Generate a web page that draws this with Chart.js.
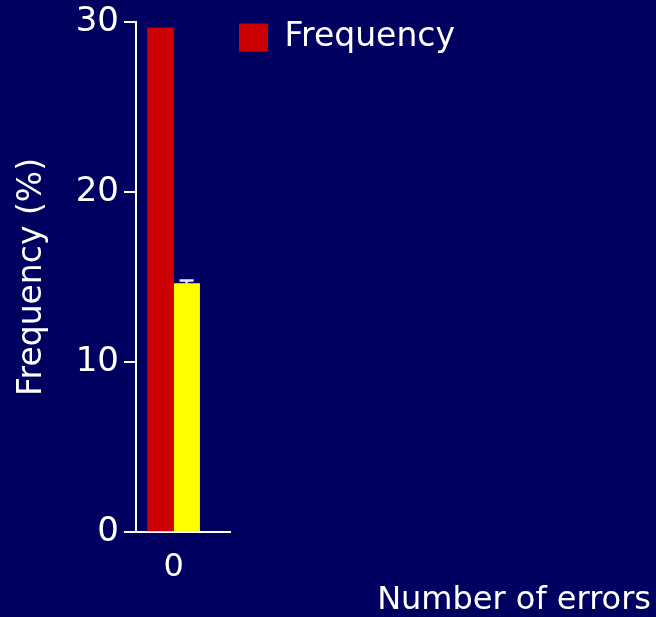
<!DOCTYPE html>
<html>
<head>
<meta charset="utf-8">
<script src="https://cdn.jsdelivr.net/npm/chart.js@4.4.1/dist/chart.umd.min.js"></script>
<style>
html,body{margin:0;padding:0;background:#000060;overflow:hidden;}
#wrap{width:656px;height:617px;}
</style>
</head>
<body>
<div id="wrap"><canvas id="c" width="656" height="617"></canvas></div>
<script>
// ---- data ----
const categories = ['0'];
const frequencyValues = [29.65];
const secondValues = [14.62];
const secondErrors = [0.17];
const yTickValues = [0, 10, 20, 30];
const seriesLabels = ['Frequency', 'Frequency (2)'];

// ---- style / layout ----
const BG = '#000060';
const WHITE = '#ffffff';
const PLOT_RIGHT = 230;   // right edge of plot area
const LEGEND_LEFT = 239;  // left edge of legend
const LEGEND_PAD = 0;
const RIGHT_PAD = 5;

Chart.defaults.font.family = '"DejaVu Sans", sans-serif';
Chart.defaults.color = WHITE;

const bgPlugin = {
  id: 'bg',
  beforeDraw(chart) {
    const ctx = chart.ctx;
    ctx.save();
    ctx.fillStyle = BG;
    ctx.fillRect(0, 0, chart.width, chart.height);
    ctx.restore();
  }
};

const errorBarPlugin = {
  id: 'errorBars',
  afterDatasetsDraw(chart) {
    const ctx = chart.ctx;
    const yScale = chart.scales.y;
    chart.data.datasets.forEach((ds, di) => {
      if (!ds.errors) return;
      const meta = chart.getDatasetMeta(di);
      meta.data.forEach((bar, i) => {
        const v = ds.data[i].y;
        const e = ds.errors[i];
        const yBase = yScale.getPixelForValue(v);
        const yTop = yScale.getPixelForValue(v + e);
        ctx.save();
        ctx.strokeStyle = '#e8e8ff';
        ctx.lineWidth = 2.5;
        ctx.beginPath();
        ctx.moveTo(bar.x, yBase);
        ctx.lineTo(bar.x, yTop);
        ctx.moveTo(bar.x - 7, yTop);
        ctx.lineTo(bar.x + 7, yTop);
        ctx.stroke();
        ctx.restore();
      });
    });
  }
};

const toPoints = arr => arr.map((v, i) => ({ x: i, y: v }));

new Chart(document.getElementById('c'), {
  type: 'bar',
  data: {
    datasets: [
      {
        label: seriesLabels[0],
        data: toPoints(frequencyValues),
        backgroundColor: '#cc0000',
        borderWidth: 0,
        barThickness: 26
      },
      {
        label: seriesLabels[1],
        data: toPoints(secondValues),
        errors: secondErrors,
        backgroundColor: '#ffff00',
        borderWidth: 0,
        barThickness: 26
      }
    ]
  },
  options: {
    responsive: false,
    animation: false,
    layout: { padding: { top: 21, right: RIGHT_PAD, left: 0, bottom: 0 } },
    plugins: {
      tooltip: { enabled: false },
      legend: {
        display: true,
        position: 'right',
        align: 'start',
        maxWidth: 420,
        labels: {
          color: WHITE,
          boxWidth: 29,
          boxHeight: 28,
          padding: LEGEND_PAD,
          font: { size: 33 },
          filter: item => item.datasetIndex === 0
        }
      },
      title: {
        display: true,
        text: 'Number of errors',
        position: 'bottom',
        align: 'end',
        color: WHITE,
        font: { size: 32, weight: 'normal', lineHeight: 1 },
        padding: { top: 0, bottom: 0 }
      }
    },
    scales: {
      x: {
        type: 'linear',
        min: -0.5,
        max: 0.75,
        offset: false,
        afterBuildTicks: s => { s.ticks = categories.map((c, i) => ({ value: i })); },
        ticks: {
          color: WHITE,
          font: { size: 32 },
          padding: 16,
          autoSkip: false,
          maxRotation: 0,
          callback: v => (categories[v] !== undefined ? categories[v] : '')
        },
        grid: { display: false, drawTicks: false },
        border: { display: true, color: WHITE, width: 2 },
        afterFit: s => { s.height = 53; }
      },
      y: {
        type: 'linear',
        position: 'left',
        min: 0,
        max: 30,
        afterBuildTicks: s => { s.ticks = yTickValues.map(v => ({ value: v })); },
        ticks: { color: WHITE, font: { size: 34, lineHeight: 1 }, padding: 5 },
        grid: { display: true, drawOnChartArea: false, drawTicks: true, tickLength: 12, color: WHITE, lineWidth: 2 },
        border: { display: true, color: WHITE, width: 2 },
        title: {
          display: true,
          text: 'Frequency (%)',
          color: WHITE,
          font: { size: 33, lineHeight: 1 },
          padding: { top: 16, bottom: 0 }
        },
        afterFit: s => { s.width = 136; }
      },
      gap: {
        type: 'linear',
        position: 'right',
        weight: 1,
        display: true,
        grid: { display: false, drawTicks: false },
        ticks: { display: false },
        border: { display: false },
        afterFit: s => { s.width = LEGEND_LEFT - PLOT_RIGHT - LEGEND_PAD; }
      },
      fill: {
        type: 'linear',
        position: 'right',
        weight: 2000,
        display: true,
        grid: { display: false, drawTicks: false },
        ticks: { display: false },
        border: { display: false },
        afterFit: s => {
          const lw = s.chart.legend ? s.chart.legend.width : 0;
          s.width = Math.max(0, s.chart.width - RIGHT_PAD - PLOT_RIGHT - (LEGEND_LEFT - PLOT_RIGHT - LEGEND_PAD) - lw);
        }
      }
    }
  },
  plugins: [bgPlugin, errorBarPlugin]
});
</script>
</body>
</html>
